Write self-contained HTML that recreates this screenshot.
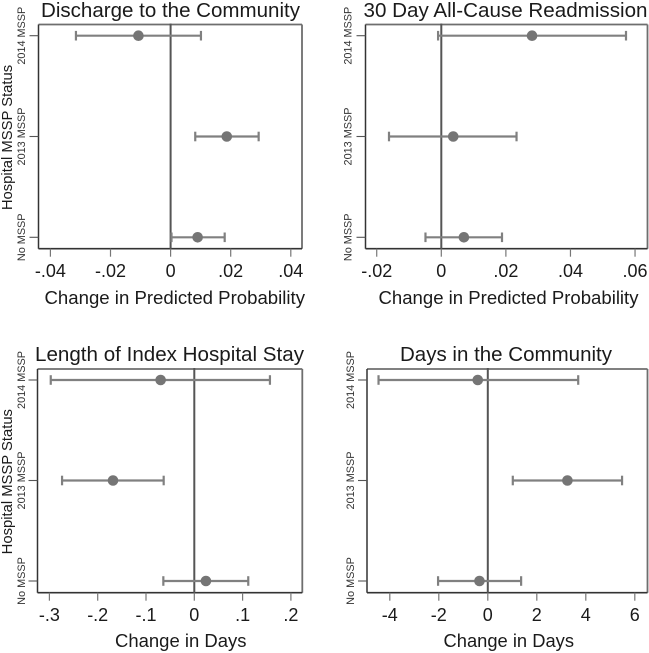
<!DOCTYPE html>
<html lang="en">
<head>
<meta charset="utf-8">
<title>Change in outcomes by hospital MSSP status</title>
<style>
html,body{margin:0;padding:0;background:#fff;width:649px;height:653px;overflow:hidden}
svg{display:block;font-family:"Liberation Sans",Arial,sans-serif;fill:#1a1a1a;filter:blur(.3px)}
</style>
</head>
<body>
<svg id="figure" width="649" height="653" viewBox="0 0 649 653" xmlns="http://www.w3.org/2000/svg">
  <rect width="649" height="653" fill="#fff"/>
  <text x="41" y="17" font-size="20.5" textLength="259" lengthAdjust="spacingAndGlyphs">Discharge to the Community</text>
  <text x="363.5" y="17" font-size="20.5" textLength="284" lengthAdjust="spacingAndGlyphs">30 Day All-Cause Readmission</text>
  <text x="35" y="361" font-size="20.5" textLength="269" lengthAdjust="spacingAndGlyphs">Length of Index Hospital Stay</text>
  <text x="400" y="361" font-size="20.5" textLength="212" lengthAdjust="spacingAndGlyphs">Days in the Community</text>
  <text x="44.5" y="304" font-size="18.5" textLength="260.5" lengthAdjust="spacingAndGlyphs">Change in Predicted Probability</text>
  <text x="378.5" y="304" font-size="18.5" textLength="260" lengthAdjust="spacingAndGlyphs">Change in Predicted Probability</text>
  <text x="115" y="647" font-size="18.5" textLength="131.5" lengthAdjust="spacingAndGlyphs">Change in Days</text>
  <text x="443.5" y="647" font-size="18.5" textLength="130.5" lengthAdjust="spacingAndGlyphs">Change in Days</text>
  <text transform="translate(12,137.5) rotate(-90)" text-anchor="middle" font-size="14.8">Hospital MSSP Status</text>
  <text transform="translate(12,481.7) rotate(-90)" text-anchor="middle" font-size="14.8">Hospital MSSP Status</text>
</svg>
<script>
// Shared category labels (top to bottom)
const categories = ["2014 MSSP", "2013 MSSP", "No MSSP"];

// Panel 1: Discharge to the Community
const dischargeEstimates = [-0.0107, 0.0187, 0.0090];
const dischargeLower = [-0.0315, 0.0082, 0.0003];
const dischargeUpper = [0.0101, 0.0293, 0.0180];
const dischargeTicks = [-0.04, -0.02, 0, 0.02, 0.04];
const dischargeTickLabels = ["-.04", "-.02", "0", ".02", ".04"];

// Panel 2: 30 Day All-Cause Readmission
const readmissionEstimates = [0.0281, 0.0037, 0.0070];
const readmissionLower = [-0.0010, -0.0162, -0.0049];
const readmissionUpper = [0.0572, 0.0233, 0.0188];
const readmissionTicks = [-0.02, 0, 0.02, 0.04, 0.06];
const readmissionTickLabels = ["-.02", "0", ".02", ".04", ".06"];

// Panel 3: Length of Index Hospital Stay
const lengthEstimates = [-0.0697, -0.1683, 0.0241];
const lengthLower = [-0.2972, -0.2738, -0.0641];
const lengthUpper = [0.1566, -0.0634, 0.1117];
const lengthTicks = [-0.3, -0.2, -0.1, 0, 0.1, 0.2];
const lengthTickLabels = ["-.3", "-.2", "-.1", "0", ".1", ".2"];

// Panel 4: Days in the Community
const daysEstimates = [-0.41, 3.25, -0.34];
const daysLower = [-4.46, 1.02, -2.03];
const daysUpper = [3.69, 5.48, 1.36];
const daysTicks = [-4, -2, 0, 2, 4, 6];
const daysTickLabels = ["-4", "-2", "0", "2", "4", "6"];

const NS = "http://www.w3.org/2000/svg";
const figure = document.getElementById("figure");

function make(parent, tag, attrs) {
  const el = document.createElementNS(NS, tag);
  for (const k in attrs) el.setAttribute(k, attrs[k]);
  parent.appendChild(el);
  return el;
}

function drawPanel(p) {
  // Axis functions
  const xScale = v => p.zeroX + v * p.pxPerUnit;
  const yScale = i => p.firstY + i * p.stepY;

  const group = make(figure, "g", {});
  
  

  // Plot frame: top and right in grey, left and bottom in dark
  const top = make(group, "line", {x1: p.left, x2: p.right, y1: p.top, y2: p.top, stroke: "#6e6e6e", "stroke-width": 1.8});
  
  
  const right = make(group, "line", {x1: p.right, x2: p.right, y1: p.top, y2: p.bottom, stroke: "#6e6e6e", "stroke-width": 1.8});
  
  
  const yAxis = make(group, "line", {x1: p.left, x2: p.left, y1: p.top, y2: p.bottom, stroke: "#333", "stroke-width": 1.5});
  
  
  const xAxis = make(group, "line", {x1: p.left, x2: p.right, y1: p.bottom, y2: p.bottom, stroke: "#333", "stroke-width": 1.6});
  
  

  // X ticks and labels
  p.ticks.forEach((t, i) => {
    const tick = make(group, "line", {x1: xScale(t), x2: xScale(t), y1: p.bottom, y2: p.bottom + 8, stroke: "#777", "stroke-width": 1.2});
    
    
    const label = make(group, "text", {x: xScale(t), y: p.bottom + 28.5, "text-anchor": "middle", "font-size": 18});
    label.textContent = p.tickLabels[i];
    
    
  });

  // Y ticks and rotated category labels
  categories.forEach((c, i) => {
    const tick = make(group, "line", {x1: p.left - 9, x2: p.left, y1: yScale(i), y2: yScale(i), stroke: "#555", "stroke-width": 1.1});
    
    
    const label = make(group, "text", {
      transform: "translate(" + p.catLabelX + "," + yScale(i) + ") rotate(-90) scale(.945,1)",
      "text-anchor": "middle", "font-size": 11.5, fill: "#333"
    });
    label.textContent = c;
    
    
  });

  // Reference line at zero
  const zero = make(group, "line", {x1: xScale(0), x2: xScale(0), y1: p.top - 1, y2: p.bottom, stroke: "#555", "stroke-width": 2});
  
  

  // Estimates with confidence intervals
  categories.forEach((c, i) => {
    const y = yScale(i);
    const whisker = make(group, "line", {x1: xScale(p.lower[i]), x2: xScale(p.upper[i]), y1: y, y2: y, stroke: "#808080", "stroke-width": 2.2});
    
    
    const capLow = make(group, "line", {x1: xScale(p.lower[i]), x2: xScale(p.lower[i]), y1: y - 4.8, y2: y + 4.8, stroke: "#808080", "stroke-width": 2.2});
    
    
    const capHigh = make(group, "line", {x1: xScale(p.upper[i]), x2: xScale(p.upper[i]), y1: y - 4.8, y2: y + 4.8, stroke: "#808080", "stroke-width": 2.2});
    
    
    const point = make(group, "circle", {cx: xScale(p.estimates[i]), cy: y, r: 5.3, fill: "#757575"});
    
    
  });
}

drawPanel({id: 1, left: 38.5, right: 302, top: 24.5, bottom: 248.7, zeroX: 170.6, pxPerUnit: 3005, firstY: 35.7, stepY: 100.8, catLabelX: 25,
  estimates: dischargeEstimates, lower: dischargeLower, upper: dischargeUpper, ticks: dischargeTicks, tickLabels: dischargeTickLabels});
drawPanel({id: 2, left: 365.5, right: 647.5, top: 24.5, bottom: 248.7, zeroX: 441.3, pxPerUnit: 3229, firstY: 35.7, stepY: 100.8, catLabelX: 351.5,
  estimates: readmissionEstimates, lower: readmissionLower, upper: readmissionUpper, ticks: readmissionTicks, tickLabels: readmissionTickLabels});
drawPanel({id: 3, left: 37.5, right: 302.3, top: 369, bottom: 592.7, zeroX: 194.3, pxPerUnit: 483, firstY: 380, stepY: 100.5, catLabelX: 25,
  estimates: lengthEstimates, lower: lengthLower, upper: lengthUpper, ticks: lengthTicks, tickLabels: lengthTickLabels});
drawPanel({id: 4, left: 367, right: 647.5, top: 369, bottom: 592.7, zeroX: 487.8, pxPerUnit: 24.5, firstY: 380, stepY: 100.5, catLabelX: 354,
  estimates: daysEstimates, lower: daysLower, upper: daysUpper, ticks: daysTicks, tickLabels: daysTickLabels});
</script>
</body>
</html>
